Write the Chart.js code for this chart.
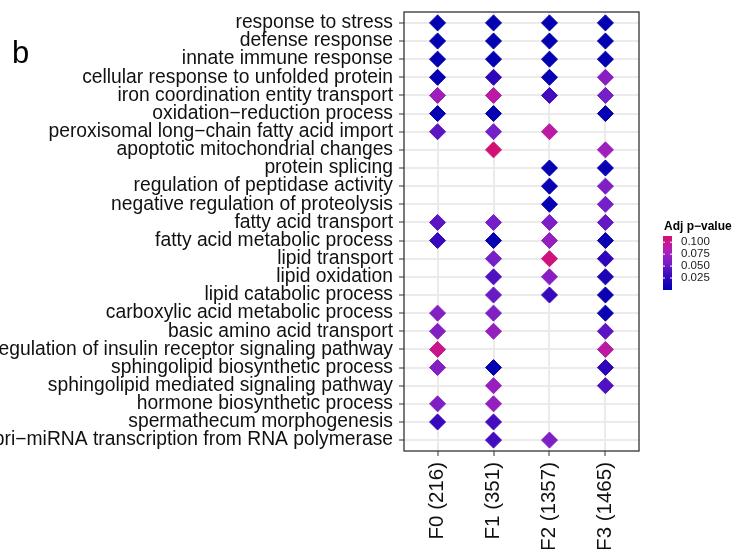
<!DOCTYPE html>
<html>
<head>
<meta charset="utf-8">
<script src="https://cdn.jsdelivr.net/npm/chart.js@4.4.1/dist/chart.umd.min.js"></script>
<style>
html, body { margin: 0; padding: 0; background: #fff; overflow: hidden; }
#wrap { position: relative; width: 742px; height: 549px; overflow: hidden; }
#wrap canvas { position: absolute; left: -30px; top: 0; }
</style>
</head>
<body>
<div id="wrap"><canvas id="chart"></canvas></div>
<script>
// GO terms, top to bottom
const terms = [
    'response to stress',
    'defense response',
    'innate immune response',
    'cellular response to unfolded protein',
    'iron coordination entity transport',
    'oxidation\u2212reduction process',
    'peroxisomal long\u2212chain fatty acid import',
    'apoptotic mitochondrial changes',
    'protein splicing',
    'regulation of peptidase activity',
    'negative regulation of proteolysis',
    'fatty acid transport',
    'fatty acid metabolic process',
    'lipid transport',
    'lipid oxidation',
    'lipid catabolic process',
    'carboxylic acid metabolic process',
    'basic amino acid transport',
    'regulation of insulin receptor signaling pathway',
    'sphingolipid biosynthetic process',
    'sphingolipid mediated signaling pathway',
    'hormone biosynthetic process',
    'spermathecum morphogenesis',
    'pri\u2212miRNA transcription from RNA polymerase'
];

const groups = ['F0 (216)', 'F1 (351)', 'F2 (1357)', 'F3 (1465)'];

// adj p-values per group (null = term not enriched)
const pF0 = [0.001, 0.001, 0.001, 0.002, 0.075, 0.003, 0.045, null, null, null, null, 0.045,
             0.030, null, null, null, 0.062, 0.062, 0.102, 0.062, null, 0.060, 0.030, null];
const pF1 = [0.001, 0.001, 0.002, 0.025, 0.092, 0.003, 0.055, 0.110, null, null, null, 0.055,
             0.004, 0.055, 0.040, 0.050, 0.060, 0.070, null, 0.003, 0.072, 0.070, 0.035, 0.035];
const pF2 = [0.001, 0.001, 0.001, 0.003, 0.035, null, 0.092, null, 0.003, 0.004, 0.004, 0.058,
             0.070, 0.107, 0.065, 0.030, null, null, null, null, null, null, null, 0.060];
const pF3 = [0.001, 0.001, 0.002, 0.065, 0.055, 0.003, null, 0.075, 0.004, 0.060, 0.055, 0.048,
             0.005, 0.025, 0.015, 0.006, 0.005, 0.045, 0.092, 0.025, 0.040, null, null, null];

const legendTicks = [0.025, 0.050, 0.075, 0.100];
const pMin = 0;
const pMax = 0.113;

// colour ramp (low -> high)
const rampStops = [
    [0.00, [0, 0, 176]],
    [0.25, [52, 6, 188]],
    [0.50, [120, 32, 200]],
    [0.75, [178, 30, 182]],
    [1.00, [214, 16, 108]]
];

const OFF = 30;               // canvas shifted left so long labels are cut like the original
const FONT = '"Liberation Sans", Arial, sans-serif';

function pColor(p){
    let t = (p - pMin) / (pMax - pMin);
    t = Math.max(0, Math.min(1, t));
    for(let i = 1; i < rampStops.length; i++){
        const [t1, c1] = rampStops[i];
        const [t0, c0] = rampStops[i-1];
        if(t <= t1){
            const f = (t - t0) / (t1 - t0);
            const c = c0.map((v, k) => Math.round(v + (c1[k] - v) * f));
            return `rgb(${c[0]},${c[1]},${c[2]})`;
        }
    }
    const c = rampStops[rampStops.length-1][1];
    return `rgb(${c[0]},${c[1]},${c[2]})`;
}

const points = [];
[pF0, pF1, pF2, pF3].forEach((col, gi) => {
    col.forEach((p, ti) => {
        if(p !== null) points.push({x: gi, y: ti, p: p});
    });
});

// panel border, "b" tag, colour bar legend
const decorPlugin = {
    id: 'decor',
    beforeDatasetsDraw(chart){
        const a = chart.chartArea;
        const ctx = chart.ctx;
        ctx.save();
        ctx.strokeStyle = '#333333';
        ctx.lineWidth = 1.3;
        ctx.strokeRect(a.left, a.top, a.right - a.left, a.bottom - a.top);
        ctx.restore();
    },
    afterDraw(chart){
        const ctx = chart.ctx;
        ctx.save();

        ctx.fillStyle = '#000';
        ctx.font = '31px ' + FONT;
        ctx.textBaseline = 'alphabetic';
        ctx.textAlign = 'left';
        ctx.fillText('b', 12 + OFF, 63);

        // legend
        const bx = 663 + OFF, bw = 9, top = 236, bottom = 290;
        ctx.font = 'bold 12px ' + FONT;
        ctx.fillStyle = '#000';
        ctx.fillText('Adj p\u2212value', 664 + OFF, 230);

        const grad = ctx.createLinearGradient(0, bottom, 0, top);
        for(let i = 0; i <= 20; i++){
            grad.addColorStop(i / 20, pColor(pMin + (pMax - pMin) * i / 20));
        }
        ctx.fillStyle = grad;
        ctx.fillRect(bx, top, bw, bottom - top);

        ctx.font = '11.5px ' + FONT;
        ctx.textBaseline = 'middle';
        legendTicks.forEach(v => {
            const y = bottom - (v - pMin) / (pMax - pMin) * (bottom - top);
            ctx.strokeStyle = '#fff';
            ctx.lineWidth = 1;
            ctx.beginPath();
            ctx.moveTo(bx, y); ctx.lineTo(bx + 2, y);
            ctx.moveTo(bx + bw - 2, y); ctx.lineTo(bx + bw, y);
            ctx.stroke();
            ctx.fillStyle = '#1a1a1a';
            ctx.fillText(v.toFixed(3), 681 + OFF, y);
        });
        ctx.restore();
    }
};

const canvas = document.getElementById('chart');
canvas.width = 742 + OFF;
canvas.height = 549;
canvas.style.width = (742 + OFF) + 'px';
canvas.style.height = '549px';

new Chart(canvas, {
    type: 'scatter',
    data: {
        datasets: [{
            data: points,
            pointStyle: 'rectRot',
            pointRadius: 8,
            borderWidth: 1,
            backgroundColor: c => c.raw ? pColor(c.raw.p) : '#000',
            borderColor: c => c.raw ? pColor(c.raw.p) : '#000'
        }]
    },
    options: {
        responsive: false,
        animation: false,
        devicePixelRatio: 1,
        layout: { padding: { left: 0, top: 12, right: 103, bottom: 0 } },
        plugins: {
            legend: { display: false },
            tooltip: { enabled: false }
        },
        scales: {
            x: {
                type: 'linear',
                min: -0.6,
                max: 3.6,
                afterBuildTicks: s => { s.ticks = groups.map((g, i) => ({value: i})); },
                afterFit: s => { s.height = 98; s.paddingLeft = 0; s.paddingRight = 0; },
                border: { display: false },
                grid: {
                    color: '#EBEBEB',
                    lineWidth: 2,
                    tickColor: '#333333',
                    tickWidth: 1,
                    tickLength: 5
                },
                ticks: {
                    autoSkip: false,
                    minRotation: 90,
                    maxRotation: 90,
                    padding: 6,
                    color: '#111',
                    font: { family: FONT, size: 20.5 },
                    callback: v => groups[v]
                }
            },
            y: {
                type: 'linear',
                reverse: true,
                min: -0.6,
                max: 23.6,
                afterBuildTicks: s => { s.ticks = terms.map((t, i) => ({value: i})); },
                afterFit: s => { s.width = 404 + OFF; s.paddingTop = 0; s.paddingBottom = 0; },
                border: { display: false },
                grid: {
                    color: '#EBEBEB',
                    lineWidth: 2,
                    tickColor: '#333333',
                    tickWidth: 1,
                    tickLength: 5
                },
                ticks: {
                    autoSkip: false,
                    padding: 6,
                    color: '#111',
                    font: { family: FONT, size: 19.3 },
                    callback: v => terms[v]
                }
            }
        }
    },
    plugins: [decorPlugin]
});
</script>
</body>
</html>
